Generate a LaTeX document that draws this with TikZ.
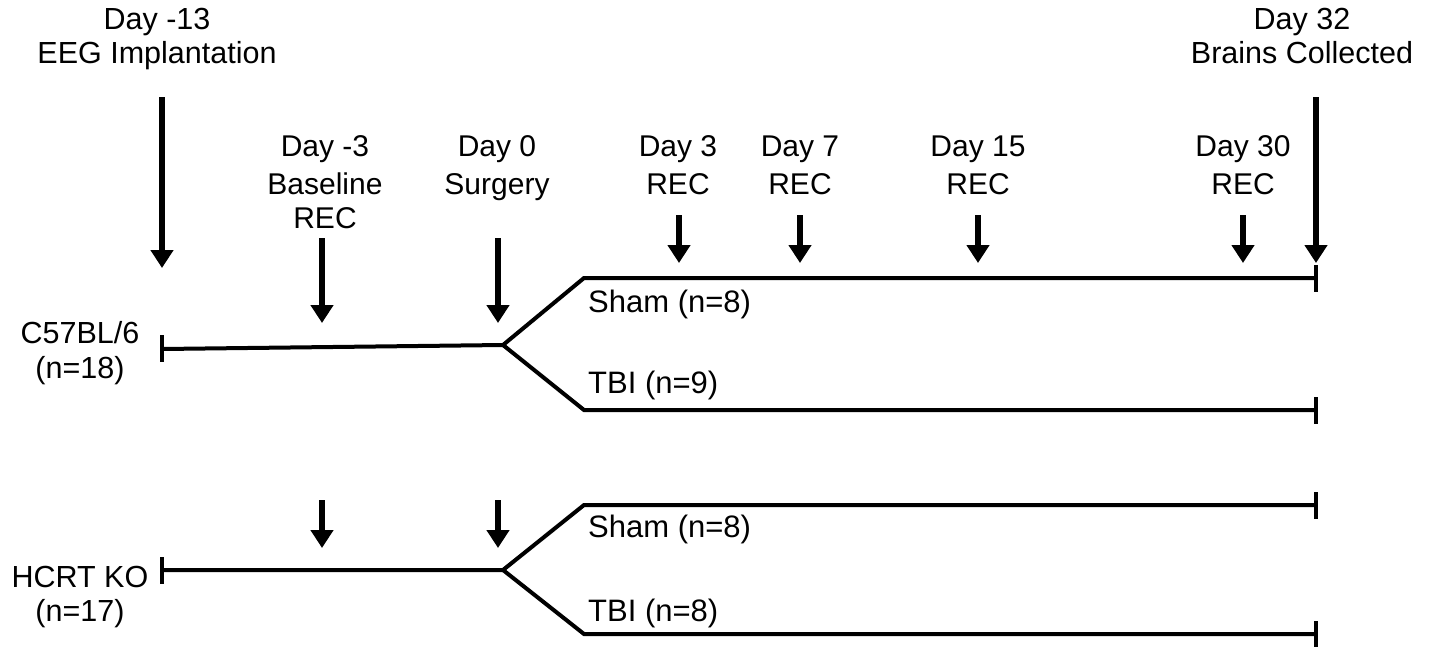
\documentclass[tikz,border=0pt]{standalone}
\usepackage{fontspec}
\setmainfont{Liberation Sans}
\usetikzlibrary{arrows.meta}
\begin{document}
\begin{tikzpicture}[x=1pt,y=-1pt,
  lbl/.style={anchor=base,inner sep=0pt,font=\fontsize{30.5}{36}\selectfont},
  mlbl/.style={anchor=base,inner sep=0pt,font=\fontsize{30}{36}\selectfont},
  glbl/.style={anchor=base west,inner sep=0pt,font=\fontsize{31}{36}\selectfont},
  evarrow/.style={line width=6pt,-{Triangle[width=22pt,length=18pt]}},
  tline/.style={line width=4pt,line join=miter},
  tick/.style={line width=4.5pt}]
\useasboundingbox (0,0) rectangle (1432,648);
% ---- top labels
\node[lbl] (t13a) at (157,29) {Day -13};
\node[lbl] (t13b) at (157,63) {EEG Implantation};
\node[lbl] (t32a) at (1302,29) {Day 32};
\node[lbl] (t32b) at (1302,63) {Brains Collected};
% ---- middle labels
\node[mlbl] (tm3a) at (325,156) {Day -3};
\node[mlbl] (tm3b) at (325,194) {Baseline};
\node[mlbl] (tm3c) at (325,228) {REC};
\node[mlbl] (t0a) at (497,156) {Day 0};
\node[mlbl] (t0b) at (497,194) {Surgery};
\node[mlbl] (t3a) at (678,156) {Day 3};
\node[mlbl] (t3b) at (678,194) {REC};
\node[mlbl] (t7a) at (800,156) {Day 7};
\node[mlbl] (t7b) at (800,194) {REC};
\node[mlbl] (t15a) at (978,156) {Day 15};
\node[mlbl] (t15b) at (978,194) {REC};
\node[mlbl] (t30a) at (1243,156) {Day 30};
\node[mlbl] (t30b) at (1243,194) {REC};
% ---- group labels
\node[lbl] (ga1) at (80,343) {C57BL/6};
\node[lbl] (ga2) at (80,378) {(n=18)};
\node[lbl] (gb1) at (80,587) {HCRT KO};
\node[lbl] (gb2) at (80,621) {(n=17)};
\node[glbl] (sa) at (588,312) {Sham (n=8)};
\node[glbl] (ta) at (588,393) {TBI (n=9)};
\node[glbl] (sb) at (588,537) {Sham (n=8)};
\node[glbl] (tb) at (588,621) {TBI (n=8)};
% ---- coordinates: top group
\coordinate (a0) at (162,349);
\coordinate (a0t) at (162,335);
\coordinate (a0b) at (162,362);
\coordinate (abr) at (503,345);
\coordinate (au) at (584,278);
\coordinate (aue) at (1316,278);
\coordinate (auet) at (1316,265);
\coordinate (aueb) at (1316,292);
\coordinate (al) at (584,410);
\coordinate (ale) at (1316,410);
\coordinate (alet) at (1316,397);
\coordinate (aleb) at (1316,424);
% ---- coordinates: bottom group
\coordinate (b0) at (162,570);
\coordinate (b0t) at (162,557);
\coordinate (b0b) at (162,584);
\coordinate (bbr) at (503,570);
\coordinate (bu) at (584,505);
\coordinate (bue) at (1316,505);
\coordinate (buet) at (1316,492);
\coordinate (bueb) at (1316,519);
\coordinate (bl) at (584,634);
\coordinate (ble) at (1316,634);
\coordinate (blet) at (1316,621);
\coordinate (bleb) at (1316,647);
% ---- timelines
\draw[tline] (a0) -- (abr) -- (au) -- (aue);
\draw[tline] (abr) -- (al) -- (ale);
\draw[tick] (a0t) -- (a0b);
\draw[tick] (auet) -- (aueb);
\draw[tick] (alet) -- (aleb);
\draw[tline] (b0) -- (bbr) -- (bu) -- (bue);
\draw[tline] (bbr) -- (bl) -- (ble);
\draw[tick] (b0t) -- (b0b);
\draw[tick] (buet) -- (bueb);
\draw[tick] (blet) -- (bleb);
% ---- event arrows
\coordinate (e13s) at (162,97);   \coordinate (e13e) at (162,268);
\coordinate (em3s) at (322,238);  \coordinate (em3e) at (322,323);
\coordinate (e0s) at (498,238);   \coordinate (e0e) at (498,323);
\coordinate (e3s) at (679,215);   \coordinate (e3e) at (679,263);
\coordinate (e7s) at (800,215);   \coordinate (e7e) at (800,263);
\coordinate (e15s) at (978,215);  \coordinate (e15e) at (978,263);
\coordinate (e30s) at (1243,215); \coordinate (e30e) at (1243,263);
\coordinate (e32s) at (1316,97);  \coordinate (e32e) at (1316,263);
\coordinate (fm3s) at (322,500);  \coordinate (fm3e) at (322,548);
\coordinate (f0s) at (498,500);   \coordinate (f0e) at (498,548);
\draw[evarrow] (e13s) -- (e13e);
\draw[evarrow] (em3s) -- (em3e);
\draw[evarrow] (e0s) -- (e0e);
\draw[evarrow] (e3s) -- (e3e);
\draw[evarrow] (e7s) -- (e7e);
\draw[evarrow] (e15s) -- (e15e);
\draw[evarrow] (e30s) -- (e30e);
\draw[evarrow] (e32s) -- (e32e);
\draw[evarrow] (fm3s) -- (fm3e);
\draw[evarrow] (f0s) -- (f0e);
\end{tikzpicture}
\end{document}
